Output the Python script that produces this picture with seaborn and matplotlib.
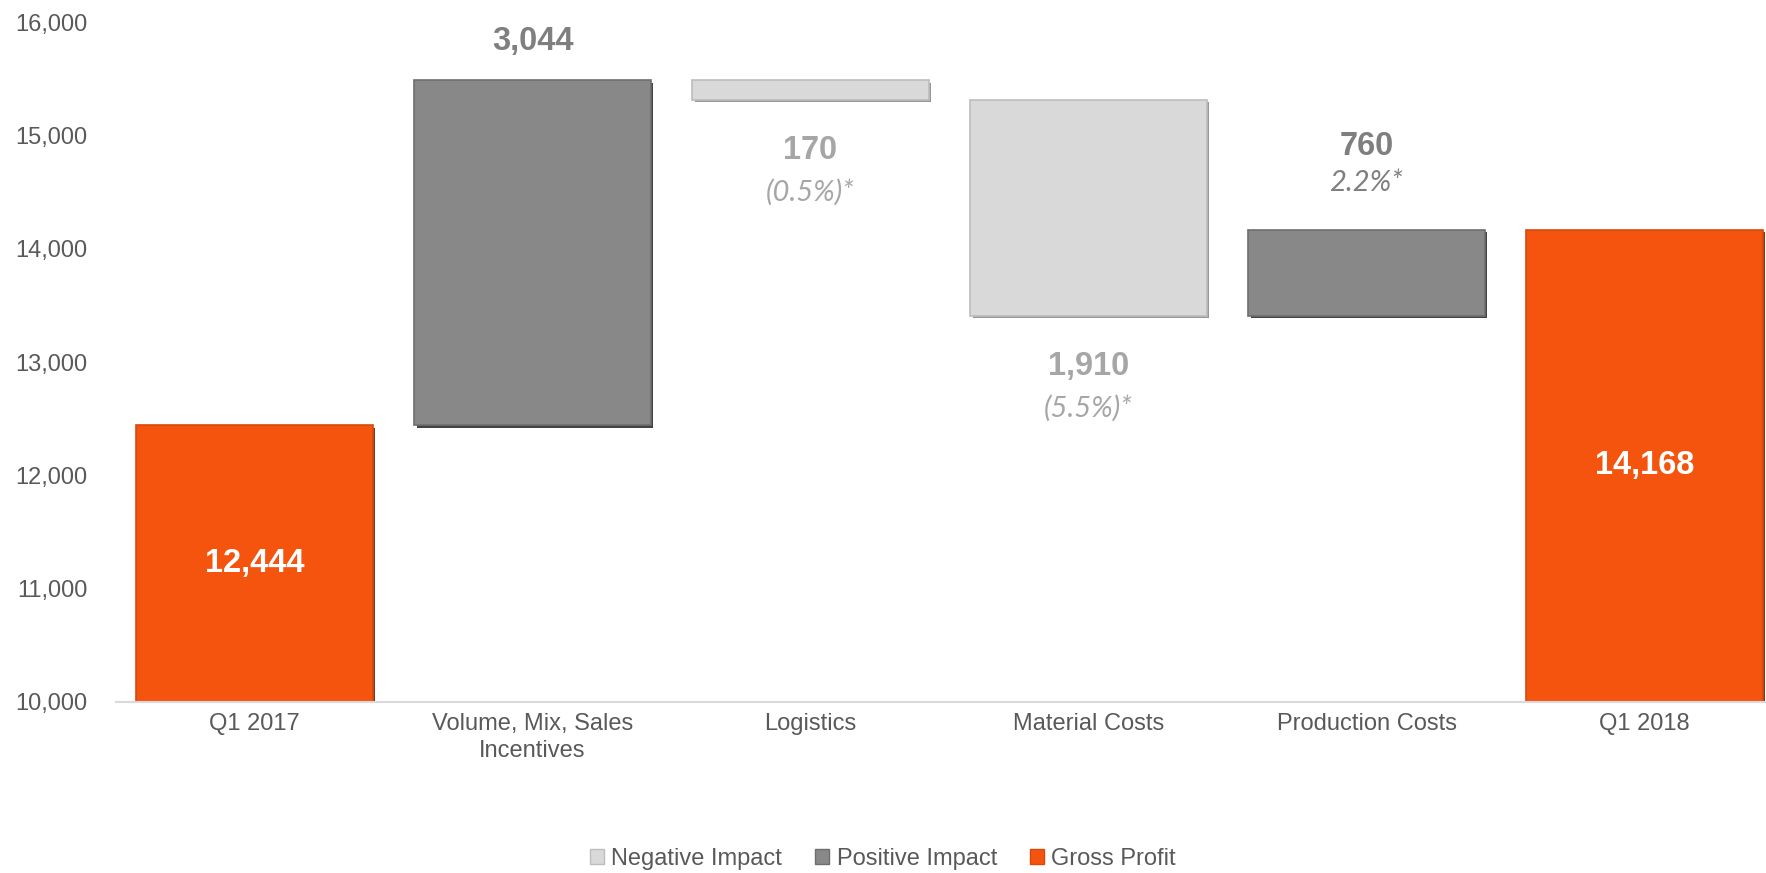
import matplotlib
matplotlib.use("Agg")
import matplotlib.pyplot as plt
import matplotlib.patheffects as pe
import seaborn as sns
import pandas as pd

# ---- data ----
categories = ["Q1 2017", "Volume, Mix, Sales\nIncentives", "Logistics",
              "Material Costs", "Production Costs", "Q1 2018"]
changes = [12444, 3044, -170, -1910, 760, 14168]
kinds = ["Gross Profit", "Positive Impact", "Negative Impact",
         "Negative Impact", "Positive Impact", "Gross Profit"]
pct_labels = ["", "", "(0.5%)*", "(5.5%)*", "2.2%*", ""]
value_labels = ["12,444", "3,044", "170", "1,910", "760", "14,168"]
yticks = [10000, 11000, 12000, 13000, 14000, 15000, 16000]
legend_order = ["Negative Impact", "Positive Impact", "Gross Profit"]

# waterfall geometry from data
base = 10000
bottoms, tops = [], []
running = 0
for c, k in zip(changes, kinds):
    if k == "Gross Profit":
        bottoms.append(base)
        tops.append(c)
        running = c
    elif c >= 0:
        bottoms.append(running)
        tops.append(running + c)
        running += c
    else:
        tops.append(running)
        bottoms.append(running + c)
        running += c

df = pd.DataFrame({"cat": categories, "top": tops, "bottom": bottoms, "kind": kinds})

palette = {"Negative Impact": "#d9d9d9", "Positive Impact": "#888888", "Gross Profit": "#f4540e"}
edges = {"Negative Impact": "#bdbdbd", "Positive Impact": "#6e6e6e", "Gross Profit": "#d84a0c"}
shadows = {"Negative Impact": "#8c8c8c", "Positive Impact": "#2e2e2e", "Gross Profit": "#6a2405"}

sns.set_style("white")
plt.rcParams["font.family"] = ["Liberation Sans", "DejaVu Sans"]

fig = plt.figure(figsize=(17.66, 8.73), dpi=100)
ax = fig.add_axes([115.5 / 1766, 1 - 701.7 / 873, 1 - 115.5 / 1766, (701.7 - 22.5) / 873])

sns.barplot(data=df, x="cat", y="top", hue="kind", hue_order=legend_order,
            palette=palette, width=0.85, dodge=False, order=categories,
            saturation=1, ax=ax)

# set each bar's floating base from the data
for p in ax.patches:
    if p.get_height() == 0 or p.get_width() == 0:
        continue
    i = int(round(p.get_x() + p.get_width() / 2))
    if i < 0 or i >= len(categories):
        continue
    p.set_y(bottoms[i])
    p.set_height(tops[i] - bottoms[i])
    k = kinds[i]
    p.set_edgecolor(edges[k])
    p.set_linewidth(1.2)
    p.set_path_effects([pe.SimplePatchShadow(offset=(1.8, -1.8), shadow_rgbFace=shadows[k], alpha=0.9),
                        pe.Normal()])

ax.set_ylim(10000, 16000)
ax.set_xlim(-0.5, 5.437)
ax.set_yticks(yticks)
ax.set_yticklabels([f"{v:,}" for v in yticks])
ax.set_xlabel("")
ax.set_ylabel("")
ax.tick_params(axis="both", length=0, labelsize=17, colors="#595959")
ax.tick_params(axis="y", pad=20)
ax.tick_params(axis="x", pad=8)
for lbl in ax.get_xticklabels():
    lbl.set_linespacing(1.3)
for s in ["top", "right", "left"]:
    ax.spines[s].set_visible(False)
ax.spines["bottom"].set_color("#d9d9d9")
ax.spines["bottom"].set_linewidth(1.5)

BOLD = 23.5
ITAL = 21
ital_family = ["Lato", "DejaVu Sans"]

# labels
for i, (lab, pct, k) in enumerate(zip(value_labels, pct_labels, kinds)):
    if k == "Gross Profit":
        ymid = (bottoms[i] + tops[i]) / 2
        ax.text(i, ymid, lab, ha="center", va="center", fontsize=BOLD,
                fontweight="bold", color="white")
    elif k == "Positive Impact":
        col = "#7f7f7f"
        if pct:
            ax.text(i, tops[i] + 741, lab, ha="center", va="center", fontsize=BOLD,
                    fontweight="bold", color=col)
            ax.text(i, tops[i] + 410, pct, ha="center", va="center", fontsize=ITAL,
                    style="italic", color=col, family=ital_family)
        else:
            ax.text(i, tops[i] + 342, lab, ha="center", va="center", fontsize=BOLD,
                    fontweight="bold", color=col)
    else:
        col = "#a6a6a6"
        ax.text(i, bottoms[i] - 445, lab, ha="center", va="center", fontsize=BOLD,
                fontweight="bold", color=col)
        ax.text(i, bottoms[i] - 815, pct, ha="center", va="center", fontsize=ITAL,
                style="italic", color=col, family=ital_family)

leg = ax.get_legend()
handles = leg.legend_handles
labels = [t.get_text() for t in leg.get_texts()]
leg.remove()
for h, l in zip(handles, labels):
    h.set_edgecolor(edges[l])
    h.set_linewidth(1.0)
fig.legend(handles, labels, loc="center", bbox_to_anchor=(0.5, 1 - 859 / 873),
           ncol=3, frameon=False, fontsize=17, handlelength=0.6, handleheight=0.6,
           handletextpad=0.3, columnspacing=1.4, labelcolor="#595959")

fig.savefig("out.png", dpi=100)
